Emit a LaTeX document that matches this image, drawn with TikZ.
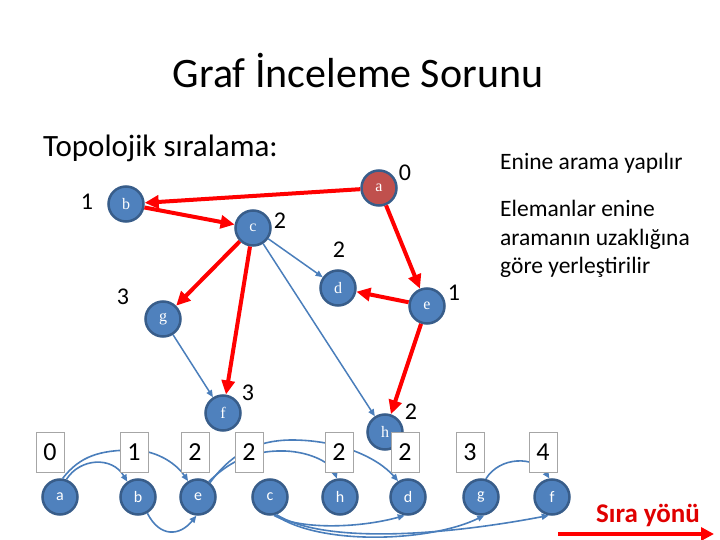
\documentclass[tikz,border=0pt]{standalone}
\usepackage{fontspec}
\setmainfont{Carlito}
\newfontfamily\serifnode{Liberation Serif}
\usetikzlibrary{arrows.meta}
\definecolor{nodeblue}{HTML}{4F81BD}
\definecolor{nodeedge}{HTML}{385D8A}
\definecolor{nodered}{HTML}{C0504D}
\definecolor{linkblue}{HTML}{4A7EBB}
\definecolor{boxgray}{HTML}{A6A6A6}
\definecolor{dirred}{HTML}{E00000}
\begin{document}
\begin{tikzpicture}[x=1pt,y=-1pt,
 vtx/.style={circle, fill=nodeblue, draw=nodeedge, line width=2.5pt, minimum size=35pt, inner sep=0pt, text=white, font=\serifnode\fontsize{16}{16}\selectfont},
 vtxb/.style={vtx, font=\fontsize{16}{16}\selectfont},
 num/.style={font=\fontsize{24}{24}\selectfont, inner sep=0pt},
 numbox/.style={draw=boxgray, fill=white, line width=1pt, minimum width=28pt, minimum height=40pt, inner sep=0pt, font=\fontsize{26}{26}\selectfont},
 redarrow/.style={red, line width=4pt, -{Triangle[length=14pt,width=13pt]}},
 bluearrow/.style={linkblue, line width=1.5pt, -{Triangle[length=7pt,width=6pt]}},
 curvearrow/.style={linkblue, line width=1.6pt, -{Triangle[length=7pt,width=6pt]}},
 txt/.style={inner sep=0pt, anchor=west},
]
\useasboundingbox (0,0) rectangle (720,540);

% titles and texts
\node[inner sep=0pt, font=\fontsize{42}{42}\selectfont] (title) at (358,71) {Graf İnceleme Sorunu};
\node[txt, font=\fontsize{31}{31}\selectfont] (topo) at (43,148) {Topolojik sıralama:};
\node[txt, font=\fontsize{23.5}{23.5}\selectfont] (enine) at (500,163) {Enine arama yapılır};
\node[txt, font=\fontsize{23.5}{28.5}\selectfont, align=left, anchor=north west] (elem) at (500,200) {Elemanlar enine\\aramanın uzaklığına\\göre yerleştirilir};

% top graph
\node[vtx, fill=nodered] (ta) at (379,188) {a};
\node[vtx] (tb) at (126,204) {b};
\node[vtx] (tc) at (253,228) {c};
\node[vtx] (td) at (338,288) {d};
\node[vtx] (te) at (427,306) {e};
\node[vtx] (tg) at (163,319) {g};
\node[vtx] (tf) at (223,413) {f};
\node[vtx] (th) at (385,432) {h};

\node[num] (la) at (405,173) {0};
\node[num] (lb) at (87,202) {1};
\node[num] (lc) at (280,221) {2};
\node[num] (ld) at (339,250) {2};
\node[num] (le) at (454,293) {1};
\node[num] (lg) at (123,297) {3};
\node[num] (lf) at (248,393) {3};
\node[num] (lh) at (411,412) {2};

\draw[bluearrow] (tc) -- (td);
\draw[bluearrow] (tc) -- (th);
\draw[bluearrow] (tg) -- (tf);
\draw[redarrow] (ta) -- (tb);
\draw[redarrow] (ta) -- (te);
\draw[redarrow] (tb) -- (tc);
\draw[redarrow] (tc) -- (tg);
\draw[redarrow] (tc) -- (tf);
\draw[redarrow] (te) -- (td);
\draw[redarrow] (te) -- (th);

% bottom row
\node[vtxb] (ba) at (60,497) {a};
\node[vtxb] (bb) at (138,497) {b};
\node[vtxb] (be) at (198,497) {e};
\node[vtxb] (bc) at (270,497) {c};
\node[vtxb] (bh) at (340,497) {h};
\node[vtxb] (bd) at (408,497) {d};
\node[vtxb] (bg) at (481,497) {g};
\node[vtxb] (bf) at (552,497) {f};

\draw[curvearrow] (ba.70) .. controls (80,458) and (112,456) .. (bb.125);
\draw[curvearrow] (ba.82) .. controls (80,456) and (100,450) .. (134,450) .. controls (160,451) and (178,466) .. (be.122);
\draw[curvearrow] (bb.-60) .. controls (160,538) and (180,536) .. (be.-95);
\draw[curvearrow] (be.55) .. controls (228,463) and (250,450) .. (285,451) .. controls (312,452) and (332,464) .. (bh.100);
\draw[curvearrow] (be.50) .. controls (228,458) and (252,440) .. (292,440) .. controls (340,440) and (378,458) .. (bd.122);
\draw[curvearrow] (bc.-78) .. controls (300,530) and (360,528) .. (bd.-100);
\draw[curvearrow] (bc.-74) .. controls (320,546) and (430,542) .. (bg.-80);
\draw[curvearrow] (bc.-70) .. controls (320,542) and (430,538) .. (bf.-100);
\draw[curvearrow] (bg.75) .. controls (500,456) and (535,456) .. (bf.98);

% boxes
\node[numbox] (k0) at (50,452) {0};
\node[numbox] (k1) at (134,452) {1};
\node[numbox] (k2) at (195,452) {2};
\node[numbox] (k3) at (249,452) {2};
\node[numbox] (k4) at (339,452) {2};
\node[numbox] (k5) at (405,452) {2};
\node[numbox] (k6) at (470,452) {3};
\node[numbox] (k7) at (543,452) {4};

% direction
\node[inner sep=0pt, text=dirred, font=\bfseries\fontsize{27}{27}\selectfont] (sira) at (648,515) {Sıra yönü};
\coordinate (d1) at (558,534);
\coordinate (d2) at (714,534);
\draw[red, line width=4pt, -{Triangle[length=13pt,width=13pt]}] (d1) -- (d2);
\end{tikzpicture}
\end{document}
